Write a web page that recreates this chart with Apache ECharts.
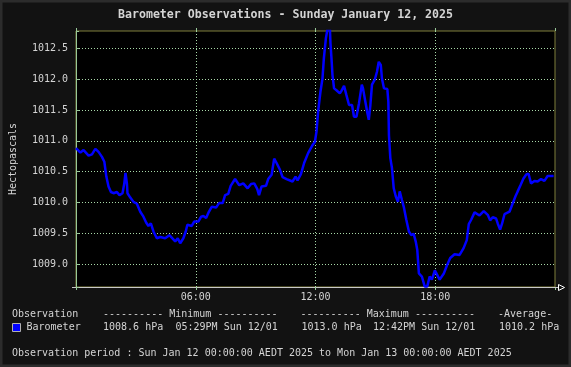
<!DOCTYPE html>
<html><head><meta charset="utf-8">
<script src="https://cdn.jsdelivr.net/npm/echarts@6/dist/echarts.min.js"></script>
<style>html,body{margin:0;padding:0;background:#121212;overflow:hidden}#c{width:571px;height:367px}</style>
</head><body><div id="c"></div>
<script>
// ---- data (hours since midnight, pressure in hPa) ----
const hours = [0.0,0.22,0.38,0.63,0.8,0.97,1.13,1.3,1.42,1.52,1.63,1.75,1.88,2.05,2.18,2.33,2.42,2.48,2.55,2.58,2.72,2.88,3.05,3.22,3.38,3.52,3.63,3.75,3.88,4.05,4.22,4.47,4.68,4.97,5.1,5.22,5.38,5.5,5.58,5.8,5.92,6.13,6.27,6.38,6.52,6.63,6.8,7.02,7.17,7.35,7.47,7.63,7.75,7.97,8.18,8.38,8.6,8.77,8.93,9.08,9.17,9.3,9.52,9.63,9.8,9.93,10.05,10.22,10.35,10.55,10.85,11.0,11.1,11.27,11.43,11.63,11.85,11.97,12.05,12.13,12.25,12.35,12.42,12.52,12.7,12.75,12.8,12.85,12.93,13.05,13.22,13.3,13.43,13.55,13.68,13.83,13.93,14.05,14.18,14.32,14.38,14.5,14.6,14.67,14.75,14.83,14.97,15.08,15.17,15.27,15.33,15.43,15.6,15.65,15.68,15.75,15.83,15.92,16.02,16.13,16.22,16.33,16.43,16.55,16.68,16.8,16.92,17.02,17.1,17.18,17.33,17.47,17.6,17.72,17.83,17.98,18.22,18.43,18.6,18.75,18.97,19.22,19.42,19.58,19.68,19.8,19.97,20.22,20.43,20.63,20.75,20.88,21.05,21.13,21.25,21.35,21.47,21.72,21.85,22.02,22.13,22.27,22.42,22.55,22.67,22.8,22.97,23.13,23.3,23.47,23.63,23.8,23.88,23.93];
const pressure = [1010.88,1010.81,1010.85,1010.76,1010.78,1010.87,1010.82,1010.74,1010.66,1010.42,1010.26,1010.17,1010.15,1010.17,1010.12,1010.15,1010.31,1010.48,1010.31,1010.15,1010.08,1010.01,1009.98,1009.85,1009.77,1009.67,1009.62,1009.66,1009.53,1009.42,1009.44,1009.42,1009.47,1009.37,1009.42,1009.34,1009.42,1009.53,1009.64,1009.62,1009.69,1009.69,1009.77,1009.78,1009.75,1009.83,1009.93,1009.92,1009.99,1009.99,1010.12,1010.14,1010.27,1010.38,1010.28,1010.31,1010.23,1010.30,1010.31,1010.22,1010.12,1010.26,1010.27,1010.38,1010.45,1010.71,1010.64,1010.53,1010.41,1010.38,1010.34,1010.42,1010.36,1010.46,1010.64,1010.80,1010.93,1010.98,1011.15,1011.47,1011.80,1012.01,1012.34,1012.66,1013.0,1012.58,1012.34,1012.07,1011.85,1011.82,1011.77,1011.81,1011.89,1011.74,1011.58,1011.58,1011.39,1011.39,1011.61,1011.91,1011.85,1011.63,1011.45,1011.34,1011.58,1011.91,1011.99,1012.12,1012.28,1012.23,1012.01,1011.85,1011.84,1011.63,1011.09,1010.72,1010.56,1010.23,1010.10,1010.01,1010.18,1010.04,1009.92,1009.72,1009.53,1009.47,1009.49,1009.37,1009.23,1008.85,1008.80,1008.64,1008.64,1008.80,1008.75,1008.90,1008.75,1008.85,1008.99,1009.10,1009.16,1009.15,1009.26,1009.39,1009.65,1009.72,1009.84,1009.79,1009.86,1009.80,1009.71,1009.76,1009.74,1009.66,1009.56,1009.66,1009.81,1009.85,1009.96,1010.10,1010.18,1010.28,1010.39,1010.45,1010.47,1010.31,1010.35,1010.34,1010.38,1010.35,1010.43,1010.43,1010.46,1010.43];
const xTickValues = [6, 12, 18];
const xTickLabels = ['06:00', '12:00', '18:00'];
const yMin = 1008.63, yMax = 1012.78;
const titleText = 'Barometer Observations - Sunday January 12, 2025';
const yAxisName = 'Hectopascals';
const seriesName = 'Barometer';
const headerRow = ['Observation', '---------- Minimum ----------', '---------- Maximum ----------', '-Average-'];
const statsRow = ['1008.6 hPa', '05:29PM Sun 12/01', '1013.0 hPa', '12:42PM Sun 12/01', '1010.2 hPa'];
const periodText = 'Observation period : Sun Jan 12 00:00:00 AEDT 2025 to Mon Jan 13 00:00:00 AEDT 2025';

// ---- styling ----
const MONO = '"DejaVu Sans Mono", "Liberation Mono", monospace';
const TXT = '#d4d4d4';
const GRIDC = '#a8d8a8';
const AXG = '#98c898';
const OLIVE = '#7f7f3a';

const chart = echarts.init(document.getElementById('c'), null, {renderer: 'canvas'});
const f10 = '10px ' + MONO;
function txt(text, x, y, extra) {
  return Object.assign({type: 'text', silent: true, z: 100,
    style: {text: text, x: x, y: y, fill: TXT, font: f10, verticalAlign: 'middle', align: 'left'}}, extra || {});
}
const graphics = [
  {type: 'rect', silent: true, z: -10, shape: {x: 1, y: 1, width: 569, height: 365}, style: {fill: 'none', stroke: '#2c2c2c', lineWidth: 3}},
  {type: 'text', silent: true, style: {text: titleText, x: 285.5, y: 15, fill: TXT, font: 'bold 11.6px ' + MONO, align: 'center', verticalAlign: 'middle'}},
  // axis line extensions / arrow
  {type: 'line', silent: true, z: 50, shape: {x1: 72, y1: 287.5, x2: 76, y2: 287.5}, style: {stroke: '#c8c8c8', lineWidth: 1}},
  {type: 'line', silent: true, z: 50, shape: {x1: 555, y1: 287.5, x2: 558, y2: 287.5}, style: {stroke: '#c8c8c8', lineWidth: 1}},
  {type: 'polygon', silent: true, z: 50, shape: {points: [[558.5, 284.5], [564.5, 287.5], [558.5, 290.5]]}, style: {fill: '#121212', stroke: '#ffffff', lineWidth: 1}},
  txt(headerRow[0], 12, 314.5),
  txt(headerRow[1], 103, 314.5),
  txt(headerRow[2], 300.5, 314.5),
  txt(headerRow[3], 498, 314.5),
  {type: 'rect', silent: true, z: 100, shape: {x: 12.5, y: 323.5, width: 8, height: 8}, style: {fill: '#0000ff', stroke: '#b0b0b0', lineWidth: 1}},
  txt(seriesName, 26.5, 327.5),
  txt(statsRow[0], 103, 327.5),
  txt(statsRow[1], 175.5, 327.5),
  txt(statsRow[2], 301.5, 327.5),
  txt(statsRow[3], 373, 327.5),
  txt(statsRow[4], 499, 327.5),
  txt(periodText, 12, 353)
];

const option = {
  backgroundColor: '#121212',
  animation: false,
  grid: {left: 76, right: 16, top: 31, bottom: 80, show: true, backgroundColor: '#000000', borderColor: OLIVE, borderWidth: 1, containLabel: false},
  xAxis: [{
    type: 'value', min: 0, max: 24, interval: 6,
    axisLine: {show: true, lineStyle: {color: '#c8c8c8', width: 1}},
    axisTick: {show: true, length: 3, lineStyle: {color: AXG}},
    axisLabel: {show: true, color: TXT, fontFamily: MONO, fontSize: 10, margin: 5,
      formatter: function (v) { const i = xTickValues.indexOf(v); return i >= 0 ? xTickLabels[i] : ''; }},
    splitLine: {show: true, showMinLine: false, showMaxLine: false, lineStyle: {color: GRIDC, type: [1, 2], width: 1}}
  }, {
    type: 'value', min: 0, max: 24, interval: 6, position: 'top',
    axisLine: {show: false}, axisTick: {show: true, length: 3, lineStyle: {color: AXG}},
    axisLabel: {show: false}, splitLine: {show: false}
  }],
  yAxis: [{
    type: 'value', min: yMin, max: yMax, splitNumber: 8, minInterval: 0.5, maxInterval: 0.5,
    name: yAxisName, nameLocation: 'middle', nameGap: 58, nameRotate: 90,
    nameTextStyle: {color: TXT, fontFamily: MONO, fontSize: 10},
    axisLine: {show: true, lineStyle: {color: AXG, width: 1}},
    axisTick: {show: false},
    axisLabel: {show: true, color: TXT, fontFamily: MONO, fontSize: 10, margin: 8, showMinLabel: false, showMaxLabel: false,
      formatter: function (v) { return v.toFixed(1); }},
    splitLine: {show: true, showMinLine: false, showMaxLine: false, lineStyle: {color: GRIDC, type: [1, 2], width: 1}}
  }, {
    type: 'value', min: yMin, max: yMax, splitNumber: 8, minInterval: 0.5, maxInterval: 0.5, position: 'right',
    axisLine: {show: false}, axisTick: {show: true, length: 3, lineStyle: {color: AXG}},
    axisLabel: {show: false}, splitLine: {show: false}
  }],
  graphic: graphics,
  series: [{
    type: 'line', name: seriesName, xAxisIndex: 0, yAxisIndex: 0,
    data: hours.map(function (h, i) { return [h, pressure[i]]; }),
    showSymbol: false, symbol: 'none', clip: true,
    lineStyle: {color: '#0000ff', width: 2.5}
  }]
};
chart.setOption(option);
</script></body></html>
